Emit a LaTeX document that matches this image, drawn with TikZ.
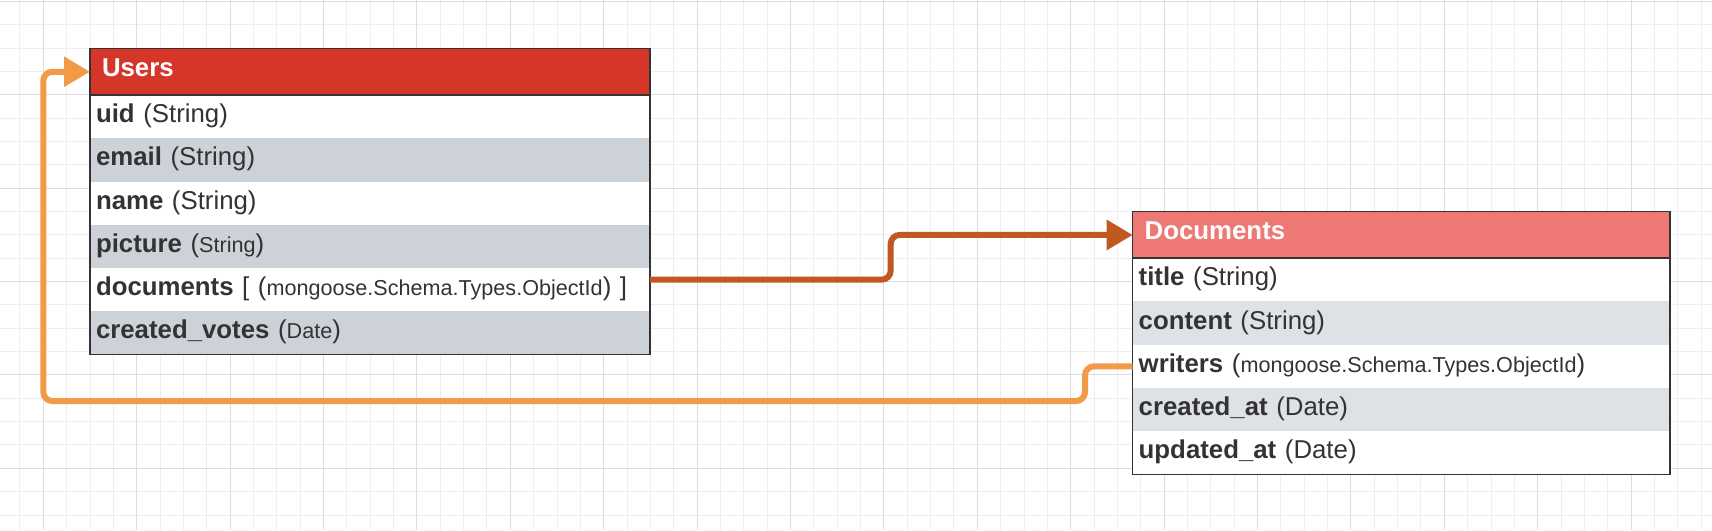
\documentclass[tikz,border=0pt]{standalone}
\usepackage{fontspec}
\setmainfont{Liberation Sans}
\usetikzlibrary{positioning,arrows.meta}

\definecolor{usershead}{HTML}{D6352A}
\definecolor{docshead}{HTML}{EE7974}
\definecolor{usersgray}{HTML}{CDD2D9}
\definecolor{docsgray}{HTML}{DEE1E5}
\definecolor{txtgray}{HTML}{333333}
\definecolor{linkdark}{HTML}{C0581F}
\definecolor{linklight}{HTML}{F19B48}
\definecolor{gridminor}{HTML}{EEEEEE}
\definecolor{gridmajor}{HTML}{DDDDDD}

\newcommand{\tsmall}[1]{{\fontsize{21.6}{26}\selectfont #1}}

\tikzset{
  field/.style={inner xsep=6pt, inner ysep=0pt, outer sep=0pt, minimum height=43.25pt,
    text height=17.5pt, text depth=5.4pt, align=left, text=txtgray,
    font=\fontsize{25.8}{30}\selectfont},
  tablehead/.style={inner xsep=12pt, inner ysep=0pt, outer sep=0pt, minimum height=46.5pt,
    text height=16pt, text depth=7pt, align=left, text=white,
    font=\bfseries\fontsize{25.8}{30}\selectfont},
  tableframe/.style={draw=txtgray, line width=1.5pt},
  link/.style={line width=6pt, rounded corners=9pt, -{Triangle[length=26pt,width=29pt]}},
}

\begin{document}
\begin{tikzpicture}[x=1pt,y=-1pt]
  \useasboundingbox[fill=white] (0,0) rectangle (1712,530);
  % routine for the grid
  \foreach \gx in {19.95,43.3,...,1712} \draw[gridminor, line width=1pt] (\gx,0) -- (\gx,530);
  \foreach \gy in {1.3,24.65,...,530} \draw[gridminor, line width=1pt] (0,\gy) -- (1712,\gy);
  \foreach \gx in {43.3,136.7,...,1712} \draw[gridmajor, line width=1pt] (\gx,0) -- (\gx,530);
  \foreach \gy in {1.3,94.7,...,530} \draw[gridmajor, line width=1pt] (0,\gy) -- (1712,\gy);

  % Users table
  \node[tablehead, fill=usershead, text width=536pt, anchor=north west] (uhead) at (90,48.5) {Users};
  \node[field, fill=white, text width=548pt, below=0pt of uhead] (u1) {\textbf{uid} (String)};
  \node[field, fill=usersgray, text width=548pt, below=0pt of u1] (u2) {\textbf{email} (String)};
  \node[field, fill=white, text width=548pt, below=0pt of u2] (u3) {\textbf{name} (String)};
  \node[field, fill=usersgray, text width=548pt, below=0pt of u3] (u4) {\textbf{picture} (\tsmall{String})};
  \node[field, fill=white, text width=548pt, below=0pt of u4] (u5) {\textbf{documents} [ (\tsmall{mongoose.Schema.Types.ObjectId}) ]};
  \node[field, fill=usersgray, text width=548pt, below=0pt of u5] (u6) {\textbf{created\_votes} (\tsmall{Date})};
  \draw[tableframe] (uhead.north west) rectangle (u6.south east);
  \draw[tableframe] (uhead.south west) -- (uhead.south east);

  % Documents table
  \node[tablehead, fill=docshead, text width=513.3pt, anchor=north west] (dhead) at (1132.7,211.7) {Documents};
  \node[field, fill=white, text width=525.3pt, below=0pt of dhead] (d1) {\textbf{title} (String)};
  \node[field, fill=docsgray, text width=525.3pt, below=0pt of d1] (d2) {\textbf{content} (String)};
  \node[field, fill=white, text width=525.3pt, below=0pt of d2] (d3) {\textbf{writers} (\tsmall{mongoose.Schema.Types.ObjectId})};
  \node[field, fill=docsgray, text width=525.3pt, below=0pt of d3] (d4) {\textbf{created\_at} (Date)};
  \node[field, fill=white, text width=525.3pt, below=0pt of d4] (d5) {\textbf{updated\_at} (Date)};
  \draw[tableframe] (dhead.north west) rectangle (d5.south east);
  \draw[tableframe] (dhead.south west) -- (dhead.south east);

  % documents -> Documents
  \draw[link, linkdark] ([yshift=10pt]u5.east) -- ++(240.7,0) |- (dhead.west);

  % writers -> Users
  \coordinate (wdrop) at (1085,401);
  \coordinate (wleft) at (43.3,401);
  \draw[link, linklight] (d3.west) -| (wdrop) -- (wleft) |- (uhead.west);
\end{tikzpicture}
\end{document}
